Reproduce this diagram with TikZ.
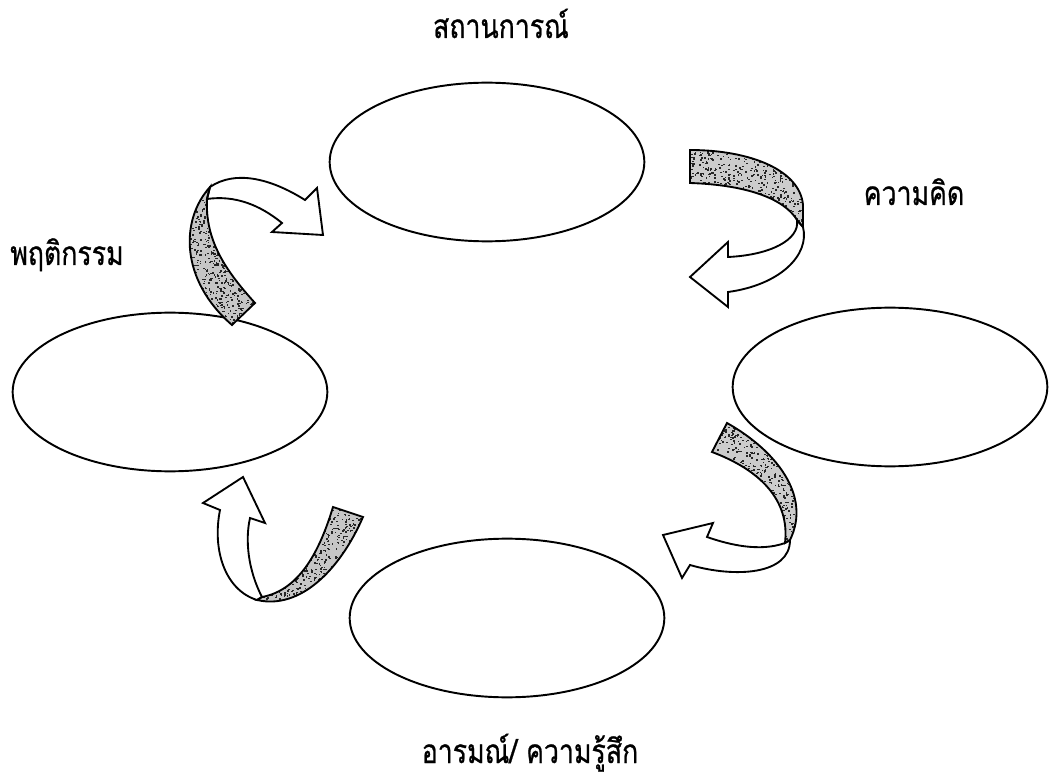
\documentclass[tikz,border=0pt]{standalone}
\usepackage{fontspec}
\newfontfamily\thaifont[Script=Thai,FakeBold=0.8]{Loma}
\usetikzlibrary{shapes.geometric}
\newcommand{\mySpeck}[5]{%
  \foreach \k in {1,...,#5}{%
    \pgfmathsetmacro{\spx}{#1+rnd*(#3-#1)}%
    \pgfmathsetmacro{\spy}{#2+rnd*(#4-#2)}%
    \fill[black!85] (\spx,\spy) rectangle ++(1.7,1.4);}}
\newcommand{\thaiLbl}[1]{\scalebox{0.8}[1]{#1}}
\def\grayA{(690,150) .. controls (750,150) and (800,170) .. (803,205) -- (803,227) -- (797,220) .. controls (785,200) and (750,185) .. (690,183) -- cycle}
\def\whiteA{(797,220) .. controls (800,240) and (770,255) .. (728,257) -- (728,242) -- (690,277) -- (728,307) -- (728,292) .. controls (780,285) and (810,255) .. (803,227) -- cycle}
\def\grayB{(210,187) .. controls (180,220) and (180,280) .. (232,325) -- (255,303) .. controls (225,270) and (205,240) .. (207,199) -- cycle}
\def\whiteB{(210,187) .. controls (235,170) and (270,178) .. (305,200) -- (317,188) -- (323,235) -- (272,232) -- (282,223) .. controls (260,205) and (235,195) .. (207,199) -- cycle}
\def\grayC{(727,423) .. controls (775,450) and (812,495) .. (790,540) -- (785,543) .. controls (790,500) and (760,470) .. (712,452) -- cycle}
\def\whiteC{(785,543) .. controls (760,552) and (730,545) .. (707,537) -- (713,523) -- (663,535) -- (682,578) -- (690,565) .. controls (735,578) and (790,575) .. (790,540) -- cycle}
\def\grayD{(363,517) .. controls (340,570) and (300,610) .. (257,600) -- (262,597) .. controls (300,590) and (320,550) .. (333,507) -- cycle}
\def\whiteD{(262,597) .. controls (248,570) and (245,540) .. (250,518) -- (265,523) -- (243,477) -- (203,503) -- (220,510) .. controls (212,550) and (225,590) .. (257,600) -- cycle}
\begin{document}
\begin{tikzpicture}[x=0.75pt,y=-0.75pt,
  oval/.style={ellipse, draw, line width=1.45pt, inner sep=0pt, outer sep=0pt,
    minimum width=236pt, minimum height=119pt, fill=white},
  lbl/.style={anchor=base, inner sep=0pt, font=\thaifont\fontsize{25}{29}\selectfont},
  arr/.style={draw, line width=1.4pt, line join=miter}]
\useasboundingbox (0,0) rectangle (1050,777);
\pgfmathsetseed{4242}
% ellipses
\node[oval] (sit)  at (487,162) {};
\node[oval] (beh)  at (170,392) {};
\node[oval] (tho)  at (890,387) {};
\node[oval] (emo)  at (507,618) {};
% labels
\node[lbl] (lsit) at (501,38) {\thaiLbl{สถานการณ์}};
\node[lbl] (ltho) at (914,205) {\thaiLbl{ความคิด}};
\node[lbl] (lbeh) at (67,265) {\thaiLbl{พฤติกรรม}};
\node[lbl] (lemo) at (530,763) {\thaiLbl{อารมณ์/ ความรู้สึก}};
% arrow A (top right)
\begin{scope}
  \clip \grayA;
  \fill[gray!40] (685,145) rectangle (810,232);
  \mySpeck{685}{145}{810}{232}{900}
\end{scope}
\path[arr, fill=white] \whiteA;
\path[arr] \grayA;
% arrow B (top left)
\begin{scope}
  \clip \grayB;
  \fill[gray!45] (178,183) rectangle (260,330);
  \mySpeck{178}{183}{260}{330}{1100}
\end{scope}
\path[arr, fill=white] \whiteB;
\path[arr] \grayB;
% arrow C (right bottom)
\begin{scope}
  \clip \grayC;
  \fill[gray!40] (705,418) rectangle (805,548);
  \mySpeck{705}{418}{805}{548}{1000}
\end{scope}
\path[arr, fill=white] \whiteC;
\path[arr] \grayC;
% arrow D (left bottom)
\begin{scope}
  \clip \grayD;
  \fill[gray!45] (252,502) rectangle (368,608);
  \mySpeck{252}{502}{368}{608}{1100}
\end{scope}
\path[arr, fill=white] \whiteD;
\path[arr] \grayD;
\end{tikzpicture}
\end{document}
